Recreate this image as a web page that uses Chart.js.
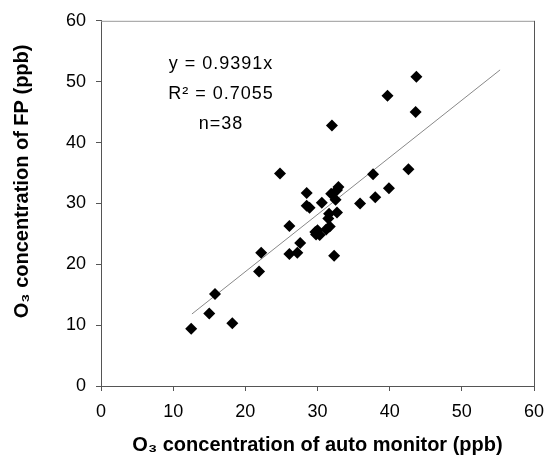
<!DOCTYPE html>
<html>
<head>
<meta charset="utf-8">
<script src="https://cdn.jsdelivr.net/npm/chart.js@4/dist/chart.umd.min.js"></script>
<style>
html,body{margin:0;padding:0;background:#fff;}
#wrap{width:546px;height:459px;position:relative;}
</style>
</head>
<body>
<div id="wrap"><canvas id="c" width="546" height="459"></canvas></div>
<script>
// Data
const autoMonitor = [12.5,15.0,15.8,18.2,21.9,22.2,24.8,26.1,26.1,27.2,27.6,28.5,28.5,28.9,29.7,30.3,30.6,31.2,31.6,31.7,31.9,32.0,32.3,32.5,32.7,32.9,32.7,35.9,37.7,38.0,39.9,39.7,42.6,43.7,43.6,31.5,30.0,29.8];
const fpValues    = [9.4,11.9,15.1,10.3,18.8,21.9,34.9,26.3,21.7,21.9,23.5,31.7,29.6,29.3,25.3,24.8,30.1,25.7,28.3,26.2,31.6,42.8,21.4,30.6,32.2,32.7,28.5,30.0,34.8,31.0,32.5,47.7,35.6,50.8,45.0,27.5,25.6,24.9];
const slope = 0.9391;
const trendRange = [12.6, 55.3];
const tickValues = [0,10,20,30,40,50,60];
const annotationLines = ['y = 0.9391x', 'R\u00B2 = 0.7055', 'n=38'];
const xTitle = 'O\u2083 concentration of auto monitor (ppb)';
const yTitle = 'O\u2083 concentration of FP (ppb)';

const points = autoMonitor.map((x,i)=>({x:x,y:fpValues[i]}));
const trend = trendRange.map(x=>({x:x,y:slope*x}));
const FONT = '"Liberation Sans", Arial, sans-serif';

const boxPlugin = {
  id:'box',
  afterDatasetsDraw(chart){
    const {ctx, chartArea:a} = chart;
    ctx.save();
    ctx.lineWidth = 1;
    ctx.strokeStyle = '#999';
    ctx.beginPath(); ctx.moveTo(a.left, a.top+0.5); ctx.lineTo(a.right, a.top+0.5); ctx.stroke();
    ctx.strokeStyle = '#555';
    ctx.beginPath(); ctx.moveTo(a.right+0.5, a.top); ctx.lineTo(a.right+0.5, a.bottom); ctx.stroke();
    // regression annotation
    ctx.fillStyle = '#000';
    ctx.font = '18px ' + FONT;
    ctx.letterSpacing = '1px';
    ctx.textAlign = 'center';
    ctx.textBaseline = 'middle';
    const cx = a.left + 120;
    ctx.fillText(annotationLines[0], cx, a.top + 43);
    ctx.fillText(annotationLines[1], cx, a.top + 73);
    ctx.fillText(annotationLines[2], cx, a.top + 103);
    ctx.letterSpacing = '0px';
    // y axis title
    ctx.font = 'bold 20px ' + FONT;
    ctx.translate(22, (a.top + a.bottom)/2 - 22);
    ctx.rotate(-Math.PI/2);
    ctx.fillText(yTitle, 0, 0);
    ctx.restore();
  }
};

new Chart(document.getElementById('c'), {
  type:'scatter',
  data:{
    datasets:[
      {data:points, pointStyle:'rectRot', pointRadius:6, pointBackgroundColor:'#000', pointBorderColor:'#000', pointBorderWidth:0, order:1},
      {type:'line', data:trend, borderColor:'#888', borderWidth:1, pointRadius:0, fill:false, order:2}
    ]
  },
  options:{
    responsive:false,
    animation:false,
    layout:{padding:{left:0,right:12,top:19,bottom:0}},
    plugins:{legend:{display:false}, tooltip:{enabled:false}},
    scales:{
      x:{
        type:'linear', min:0, max:60,
        afterBuildTicks(s){ s.ticks = tickValues.map(v=>({value:v})); },
        afterFit(s){ s.height = 73; s.paddingRight = 0; s.paddingLeft = 0; },
        grid:{drawOnChartArea:false, drawTicks:true, tickLength:5, color:'#555'},
        border:{display:true, color:'#555', width:1},
        ticks:{color:'#000', font:{family:FONT, size:18}, padding:10, maxRotation:0},
        title:{display:true, text:xTitle, color:'#000', font:{family:FONT, size:20, weight:'bold'}, padding:{top:4,bottom:2}}
      },
      y:{
        type:'linear', min:0, max:60,
        afterBuildTicks(s){ s.ticks = tickValues.map(v=>({value:v})); },
        afterFit(s){ s.width = 101; },
        grid:{drawOnChartArea:false, drawTicks:true, tickLength:5, color:'#555'},
        border:{display:true, color:'#555', width:1},
        ticks:{color:'#000', font:{family:FONT, size:18}, padding:10},
        title:{display:false}
      }
    }
  },
  plugins:[boxPlugin]
});
</script>
</body>
</html>
